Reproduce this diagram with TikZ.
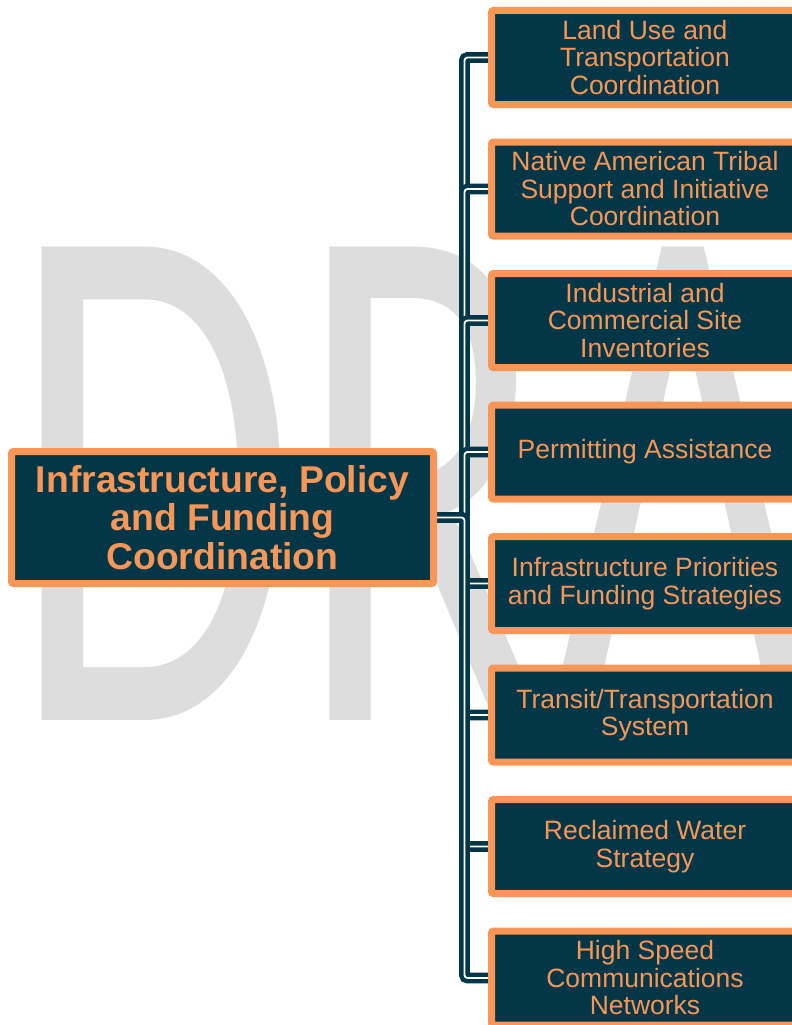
\documentclass[tikz,border=0pt]{standalone}
\usepackage{fontspec}
\setmainfont{Liberation Sans}
\newfontfamily\wmfont{Carlito}
\usetikzlibrary{backgrounds}
\definecolor{navy}{RGB}{3,54,71}
\definecolor{peach}{HTML}{F79656}
\definecolor{wmgray}{RGB}{221,221,221}

\begin{document}
\begin{tikzpicture}[x=1pt,y=-1pt,
    topic/.style={fill=navy,draw=peach,line width=7pt,rounded corners=2pt,text=peach,align=center,inner sep=0pt},
    leaf/.style={topic,minimum width=307pt,minimum height=94pt,font=\fontsize{26.5}{27.5}\selectfont},
    hub/.style={topic,minimum width=422pt,minimum height=132pt,font=\bfseries\fontsize{37.3}{38.5}\selectfont},
    innerframe/.style={draw=peach,line width=1.5pt},
    elbow/.style={draw=navy,line width=4.5pt,double=white,double distance=1.8pt,rounded corners=3pt}]
    \useasboundingbox (0,0) rectangle (792,1025);

    \node[hub] (ipf) at (222.5,517.5) {Infrastructure, Policy\\and Funding\\Coordination};

    \node[leaf] (land) at (645,57.5) {Land Use and\\Transportation\\Coordination};
    \node[leaf] (tribal) at (645,189) {Native American Tribal\\Support and Initiative\\Coordination};
    \node[leaf] (sites) at (645,320.5) {Industrial and\\Commercial Site\\Inventories};
    \node[leaf] (permit) at (645,452) {Permitting Assistance};
    \node[leaf] (prio) at (645,583.5) {Infrastructure Priorities\\and Funding Strategies};
    \node[leaf] (transit) at (645,715) {Transit/Transportation\\System};
    \node[leaf] (water) at (645,846.5) {Reclaimed Water\\Strategy};
    \node[leaf] (broadband) at (645,978) {High Speed\\Communications\\Networks};

    \foreach \n in {ipf,land,tribal,sites,permit,prio,transit,water,broadband}
        \draw[innerframe] ([xshift=5.75pt,yshift=-5.75pt]\n.north west) rectangle ([xshift=-5.75pt,yshift=5.75pt]\n.south east);

    \begin{scope}[on background layer]
        \node[anchor=base west,inner sep=0pt,xscale=0.63,text=wmgray,font=\wmfont\fontsize{738}{738}\selectfont] (wm) at (10,720) {DRAFT};
        \foreach \n in {land,tribal,sites,permit,prio,transit,water,broadband}
            \draw[elbow] (ipf.east) -- ++(27.5,0) |- (\n.west);
    \end{scope}
\end{tikzpicture}
\end{document}
